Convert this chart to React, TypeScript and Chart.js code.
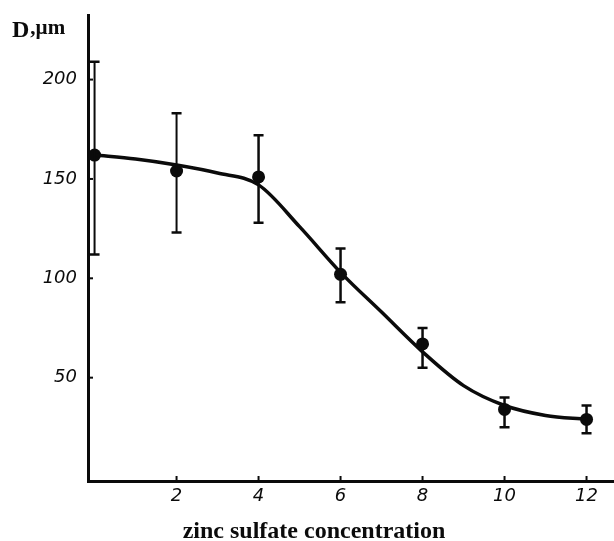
import React, { useEffect, useRef } from "react";
import { Chart, registerables } from "chart.js";

Chart.register(...registerables);

// Data
const concentration = [0, 2, 4, 6, 8, 10, 12];
const meanD = [162, 154, 151, 102, 67, 34, 29];
const errHigh = [209, 183, 172, 115, 75, 40, 36];
const errLow = [112, 123, 128, 88, 55, 25, 22];

const curveX = [0, 1, 2, 3, 4, 5, 6, 7, 8, 9, 10, 11, 12];
const curveD = [162, 160, 157, 153, 147, 126, 103, 83, 63, 46, 36, 31, 29];

const xTicks = [2, 4, 6, 8, 10, 12];
const yTicks = [50, 100, 150, 200];

const xTitle = "zinc sulfate concentration";
const yTitleMain = "D";
const yTitleUnit = ",\u00b5m";

const INK = "#0b0b0b";

const zeroPadding = (scale: any) => {
  scale.paddingLeft = 0;
  scale.paddingRight = 0;
  scale.paddingTop = 0;
  scale.paddingBottom = 0;
};

const errorBarPlugin = {
  id: "errorBars",
  afterDatasetsDraw(chart: any) {
    const { ctx, scales } = chart;
    const xs = scales.x;
    const ys = scales.y;
    ctx.save();
    ctx.strokeStyle = INK;
    concentration.forEach((c, i) => {
      const px = xs.getPixelForValue(c);
      const top = ys.getPixelForValue(errHigh[i]);
      const bot = ys.getPixelForValue(errLow[i]);
      ctx.lineWidth = i < 2 ? 2 : 2.5;
      ctx.beginPath();
      ctx.moveTo(px, top);
      ctx.lineTo(px, bot);
      ctx.stroke();
      ctx.lineWidth = 2.5;
      ctx.beginPath();
      ctx.moveTo(px - 5, top);
      ctx.lineTo(px + 5, top);
      ctx.moveTo(px - 5, bot);
      ctx.lineTo(px + 5, bot);
      ctx.stroke();
    });
    ctx.restore();
  },
};

const decorPlugin = {
  id: "decor",
  afterDraw(chart: any) {
    const { ctx, scales, chartArea } = chart;
    const xs = scales.x;
    const ys = scales.y;
    ctx.save();
    ctx.strokeStyle = INK;
    ctx.lineWidth = 2;
    // small inward tick marks
    xTicks.forEach((v) => {
      const px = xs.getPixelForValue(v);
      ctx.beginPath();
      ctx.moveTo(px, chartArea.bottom);
      ctx.lineTo(px, chartArea.bottom - 5);
      ctx.stroke();
    });
    yTicks.forEach((v) => {
      const py = ys.getPixelForValue(v);
      ctx.beginPath();
      ctx.moveTo(chartArea.left, py);
      ctx.lineTo(chartArea.left + 5, py);
      ctx.stroke();
    });
    // x axis title
    ctx.fillStyle = INK;
    ctx.font = 'bold 24px "Liberation Serif"';
    ctx.textAlign = "center";
    ctx.textBaseline = "alphabetic";
    ctx.fillText(xTitle, chartArea.left + 226, chartArea.bottom + 57);
    // y axis title
    ctx.textAlign = "left";
    ctx.font = 'bold 24px "Liberation Serif"';
    ctx.fillText(yTitleMain, 12, 37);
    const w = ctx.measureText(yTitleMain).width;
    ctx.font = 'bold 21px "Liberation Serif"';
    ctx.fillText(yTitleUnit, 12 + w + 1, 34);
    ctx.restore();
  },
};

export default function App() {
  const ref = useRef<HTMLCanvasElement | null>(null);

  useEffect(() => {
    if (!ref.current) return;
    const chart = new Chart(ref.current, {
      type: "scatter",
      data: {
        datasets: [
          {
            label: "fit",
            data: curveX.map((x, i) => ({ x, y: curveD[i] })),
            showLine: true,
            borderColor: INK,
            borderWidth: 3.5,
            pointRadius: 0,
            cubicInterpolationMode: "monotone",
            fill: false,
          },
          {
            label: "D",
            data: concentration.map((x, i) => ({ x, y: meanD[i] })),
            showLine: false,
            pointRadius: 6.5,
            pointBackgroundColor: INK,
            pointBorderColor: INK,
            pointBorderWidth: 0,
          },
        ],
      },
      options: {
        responsive: false,
        animation: false,
        layout: { autoPadding: false, padding: { top: 15, right: 0, bottom: 0, left: 0 } },
        plugins: {
          legend: { display: false },
          tooltip: { enabled: false },
          title: { display: false },
        },
        scales: {
          x: {
            type: "linear",
            min: -0.16,
            max: 12.67,
            afterBuildTicks: (scale: any) => {
              scale.ticks = xTicks.map((v) => ({ value: v }));
            },
            afterFit: (scale: any) => {
              scale.height = 60;
              zeroPadding(scale);
            },
            grid: { display: false, drawTicks: false },
            border: { display: true, color: INK, width: 3 },
            ticks: {
              color: INK,
              padding: 5,
              maxRotation: 0,
              font: { family: "DejaVu Sans", size: 18, style: "italic" },
              callback: (v: any) => String(v),
            },
          },
          y: {
            type: "linear",
            min: -2,
            max: 232.5,
            afterBuildTicks: (scale: any) => {
              scale.ticks = yTicks.map((v) => ({ value: v }));
            },
            afterFit: (scale: any) => {
              scale.width = 88;
              zeroPadding(scale);
            },
            grid: { display: false, drawTicks: false },
            border: { display: true, color: INK, width: 3 },
            ticks: {
              color: INK,
              padding: 11,
              font: { family: "DejaVu Sans", size: 18, style: "italic" },
              callback: (v: any) => String(v),
            },
          },
        },
      },
      plugins: [errorBarPlugin, decorPlugin],
    } as any);
    return () => chart.destroy();
  }, []);

  return (
    <div style={{ position: "absolute", left: 0, top: 0, width: 614, height: 541, background: "#fff" }}>
      <canvas ref={ref} width={614} height={541} style={{ display: "block" }} />
    </div>
  );
}
